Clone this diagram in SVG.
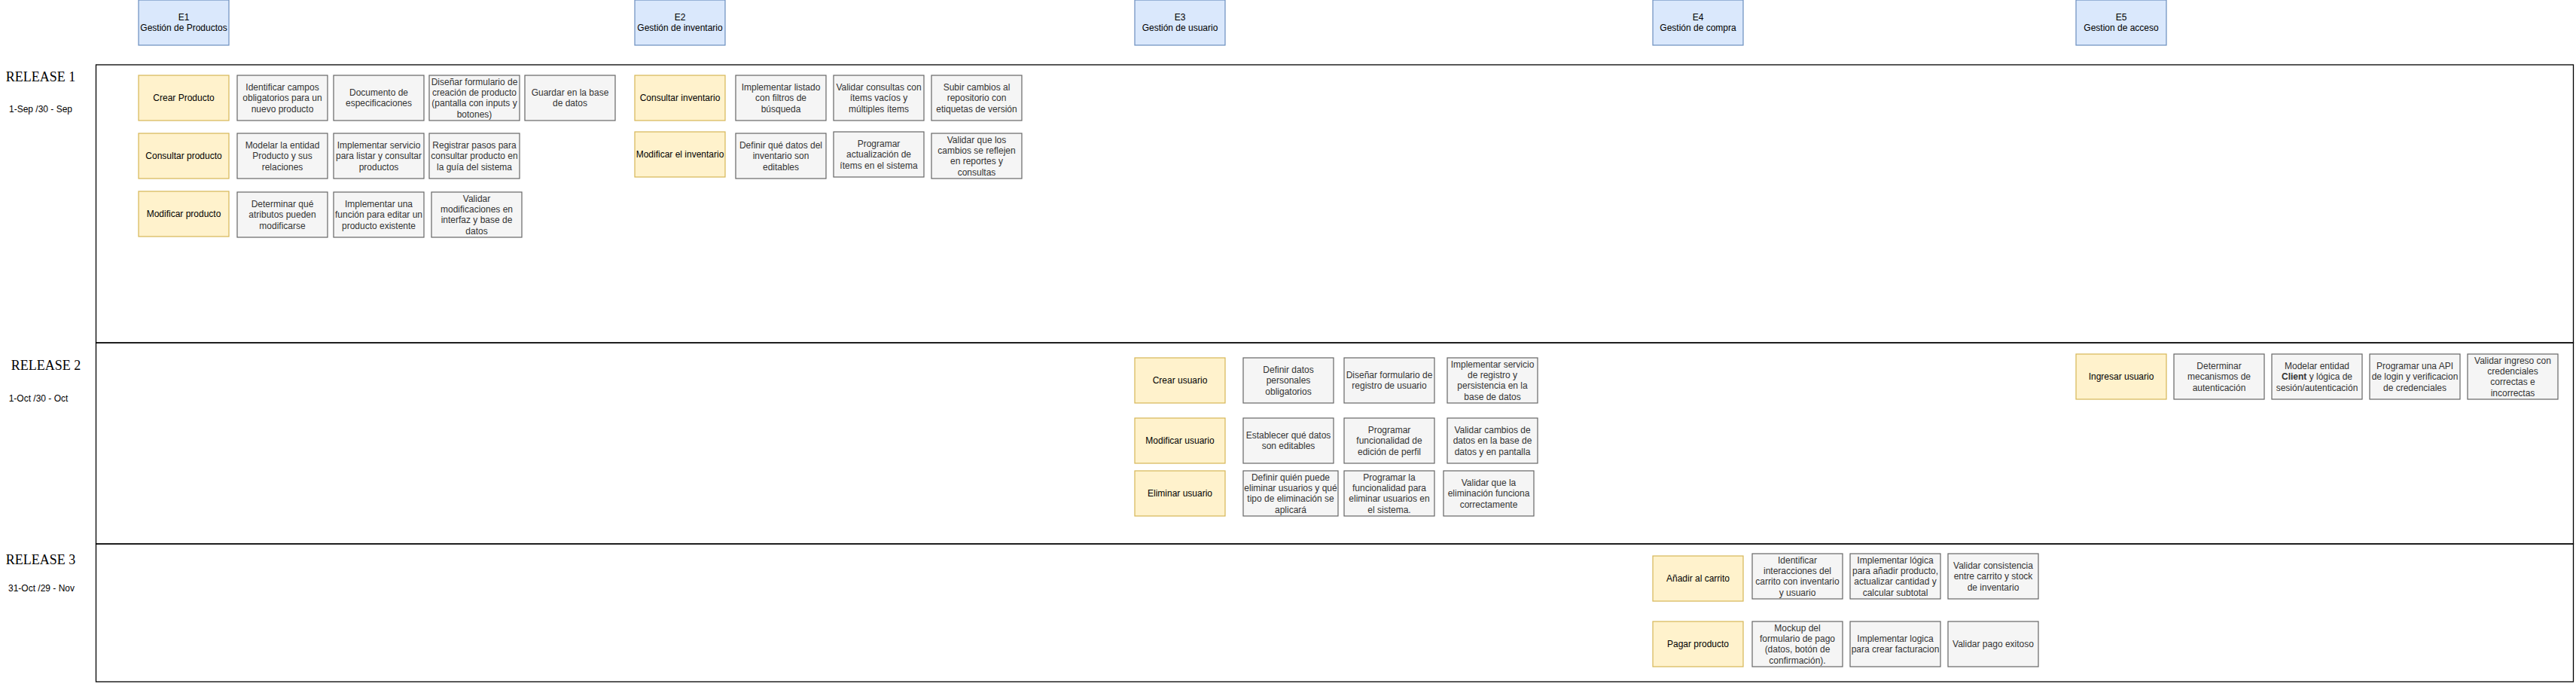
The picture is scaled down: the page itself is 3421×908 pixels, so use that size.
<svg xmlns="http://www.w3.org/2000/svg" width="3421" height="908" viewBox="0 0 3421 908">
<style>
.bg{fill:#ffffff}
.lane{fill:none;stroke:#000000;stroke-width:1.3}
.epic{fill:#dae8fc;stroke:#6c8ebf;stroke-width:1.2}
.story{fill:#fff2cc;stroke:#d6b656;stroke-width:1.2}
.task{fill:#f5f5f5;stroke:#666666;stroke-width:1.2}
text{font-family:"Liberation Sans",Arial,sans-serif;font-size:12px;text-anchor:middle}
.dk{fill:#000000}
.gr{fill:#333333}
.rel{font-family:"Liberation Serif","Times New Roman",serif;font-size:18px;fill:#000000}
.date{fill:#000000}
</style>
<rect class="bg" x="0" y="0" width="3421" height="908"/>

<g id="releases">
  <rect class="lane" x="127.5" y="86" width="3290" height="369"/>
  <rect class="lane" x="127.5" y="455" width="3290" height="267"/>
  <rect class="lane" x="127.5" y="722" width="3290" height="183"/>
  <text class="rel" x="54" y="108">RELEASE 1</text>
  <text class="date" x="54" y="149">1-Sep /30 - Sep</text>
  <text class="rel" x="61" y="491">RELEASE 2</text>
  <text class="date" x="51" y="533">1-Oct /30 - Oct</text>
  <text class="rel" x="54" y="749">RELEASE 3</text>
  <text class="date" x="55" y="785">31-Oct /29 - Nov</text>
</g>

<g id="connectors"></g>

<!-- Epics -->
<g id="E1"><rect class="epic" x="184" y="0" width="120" height="60"/><text class="dk" x="244" y="27">E1<tspan x="244" dy="14.4">Gestión de Productos</tspan></text></g>
<g id="E2"><rect class="epic" x="843" y="0" width="120" height="60"/><text class="dk" x="903" y="27">E2<tspan x="903" dy="14.4">Gestión de inventario</tspan></text></g>
<g id="E3"><rect class="epic" x="1507" y="0" width="120" height="60"/><text class="dk" x="1567" y="27">E3<tspan x="1567" dy="14.4">Gestión de usuario</tspan></text></g>
<g id="E4"><rect class="epic" x="2195" y="0" width="120" height="60"/><text class="dk" x="2255" y="27">E4<tspan x="2255" dy="14.4">Gestión de compra</tspan></text></g>
<g id="E5"><rect class="epic" x="2757" y="0" width="120" height="60"/><text class="dk" x="2817" y="27">E5<tspan x="2817" dy="14.4">Gestion de acceso</tspan></text></g>

<!-- Release 1, E1 -->
<g id="crear-producto"><rect class="story" x="184" y="100" width="120" height="60"/><text class="dk" x="244" y="134.2">Crear Producto</text></g>
<g id="t-identificar-campos"><rect class="task" x="315" y="100" width="120" height="60"/><text class="gr" x="375" y="119.8">Identificar campos<tspan x="375" dy="14.4">obligatorios para un</tspan><tspan x="375" dy="14.4">nuevo producto</tspan></text></g>
<g id="t-documento"><rect class="task" x="443" y="100" width="120" height="60"/><text class="gr" x="503" y="127">Documento de<tspan x="503" dy="14.4">especificaciones</tspan></text></g>
<g id="t-disenar-formulario"><rect class="task" x="570" y="100" width="120" height="60"/><text class="gr" x="630" y="112.6">Diseñar formulario de<tspan x="630" dy="14.4">creación de producto</tspan><tspan x="630" dy="14.4">(pantalla con inputs y</tspan><tspan x="630" dy="14.4">botones)</tspan></text></g>
<g id="t-guardar"><rect class="task" x="697" y="100" width="120" height="60"/><text class="gr" x="757" y="127">Guardar en la base<tspan x="757" dy="14.4">de datos</tspan></text></g>

<g id="consultar-producto"><rect class="story" x="184" y="177" width="120" height="60"/><text class="dk" x="244" y="211.2">Consultar producto</text></g>
<g id="t-modelar-producto"><rect class="task" x="315" y="177" width="120" height="60"/><text class="gr" x="375" y="196.8">Modelar la entidad<tspan x="375" dy="14.4">Producto y sus</tspan><tspan x="375" dy="14.4">relaciones</tspan></text></g>
<g id="t-servicio-listar"><rect class="task" x="443" y="177" width="120" height="60"/><text class="gr" x="503" y="196.8">Implementar servicio<tspan x="503" dy="14.4">para listar y consultar</tspan><tspan x="503" dy="14.4">productos</tspan></text></g>
<g id="t-registrar-pasos"><rect class="task" x="570" y="177" width="120" height="60"/><text class="gr" x="630" y="196.8">Registrar pasos para<tspan x="630" dy="14.4">consultar producto en</tspan><tspan x="630" dy="14.4">la guía del sistema</tspan></text></g>

<g id="modificar-producto"><rect class="story" x="184" y="254" width="120" height="60"/><text class="dk" x="244" y="288.2">Modificar producto</text></g>
<g id="t-determinar-atributos"><rect class="task" x="315" y="255" width="120" height="60"/><text class="gr" x="375" y="274.8">Determinar qué<tspan x="375" dy="14.4">atributos pueden</tspan><tspan x="375" dy="14.4">modificarse</tspan></text></g>
<g id="t-funcion-editar"><rect class="task" x="443" y="255" width="120" height="60"/><text class="gr" x="503" y="274.8">Implementar una<tspan x="503" dy="14.4">función para editar un</tspan><tspan x="503" dy="14.4">producto existente</tspan></text></g>
<g id="t-validar-modificaciones"><rect class="task" x="573" y="255" width="120" height="60"/><text class="gr" x="633" y="267.6">Validar<tspan x="633" dy="14.4">modificaciones en</tspan><tspan x="633" dy="14.4">interfaz y base de</tspan><tspan x="633" dy="14.4">datos</tspan></text></g>

<!-- Release 1, E2 -->
<g id="consultar-inventario"><rect class="story" x="843" y="100" width="120" height="60"/><text class="dk" x="903" y="134.2">Consultar inventario</text></g>
<g id="t-listado-filtros"><rect class="task" x="977" y="100" width="120" height="60"/><text class="gr" x="1037" y="119.8">Implementar listado<tspan x="1037" dy="14.4">con filtros de</tspan><tspan x="1037" dy="14.4">búsqueda</tspan></text></g>
<g id="t-validar-consultas"><rect class="task" x="1107" y="100" width="120" height="60"/><text class="gr" x="1167" y="119.8">Validar consultas con<tspan x="1167" dy="14.4">ítems vacíos y</tspan><tspan x="1167" dy="14.4">múltiples ítems</tspan></text></g>
<g id="t-subir-cambios"><rect class="task" x="1237" y="100" width="120" height="60"/><text class="gr" x="1297" y="119.8">Subir cambios al<tspan x="1297" dy="14.4">repositorio con</tspan><tspan x="1297" dy="14.4">etiquetas de versión</tspan></text></g>

<g id="modificar-inventario"><rect class="story" x="843" y="175" width="120" height="60"/><text class="dk" x="903" y="209.2">Modificar el inventario</text></g>
<g id="t-datos-editables"><rect class="task" x="977" y="177" width="120" height="60"/><text class="gr" x="1037" y="196.8">Definir qué datos del<tspan x="1037" dy="14.4">inventario son</tspan><tspan x="1037" dy="14.4">editables</tspan></text></g>
<g id="t-programar-actualizacion"><rect class="task" x="1107" y="175" width="120" height="60"/><text class="gr" x="1167" y="194.8">Programar<tspan x="1167" dy="14.4">actualización de</tspan><tspan x="1167" dy="14.4">ítems en el sistema</tspan></text></g>
<g id="t-validar-reflejen"><rect class="task" x="1237" y="177" width="120" height="60"/><text class="gr" x="1297" y="189.6">Validar que los<tspan x="1297" dy="14.4">cambios se reflejen</tspan><tspan x="1297" dy="14.4">en reportes y</tspan><tspan x="1297" dy="14.4">consultas</tspan></text></g>

<!-- Release 2, E3 -->
<g id="crear-usuario"><rect class="story" x="1507" y="475" width="120" height="60"/><text class="dk" x="1567" y="509.2">Crear usuario</text></g>
<g id="t-datos-personales"><rect class="task" x="1651" y="475" width="120" height="60"/><text class="gr" x="1711" y="494.8">Definir datos<tspan x="1711" dy="14.4">personales</tspan><tspan x="1711" dy="14.4">obligatorios</tspan></text></g>
<g id="t-formulario-registro"><rect class="task" x="1785" y="475" width="120" height="60"/><text class="gr" x="1845" y="502">Diseñar formulario de<tspan x="1845" dy="14.4">registro de usuario</tspan></text></g>
<g id="t-servicio-registro"><rect class="task" x="1922" y="475" width="120" height="60"/><text class="gr" x="1982" y="487.6">Implementar servicio<tspan x="1982" dy="14.4">de registro y</tspan><tspan x="1982" dy="14.4">persistencia en la</tspan><tspan x="1982" dy="14.4">base de datos</tspan></text></g>

<g id="modificar-usuario"><rect class="story" x="1507" y="555" width="120" height="60"/><text class="dk" x="1567" y="589.2">Modificar usuario</text></g>
<g id="t-establecer-editables"><rect class="task" x="1651" y="555" width="120" height="60"/><text class="gr" x="1711" y="582">Establecer qué datos<tspan x="1711" dy="14.4">son editables</tspan></text></g>
<g id="t-edicion-perfil"><rect class="task" x="1785" y="555" width="120" height="60"/><text class="gr" x="1845" y="574.8">Programar<tspan x="1845" dy="14.4">funcionalidad de</tspan><tspan x="1845" dy="14.4">edición de perfil</tspan></text></g>
<g id="t-validar-cambios-datos"><rect class="task" x="1922" y="555" width="120" height="60"/><text class="gr" x="1982" y="574.8">Validar cambios de<tspan x="1982" dy="14.4">datos en la base de</tspan><tspan x="1982" dy="14.4">datos y en pantalla</tspan></text></g>

<g id="eliminar-usuario"><rect class="story" x="1507" y="625" width="120" height="60"/><text class="dk" x="1567" y="659.2">Eliminar usuario</text></g>
<g id="t-quien-elimina"><rect class="task" x="1651" y="625" width="126" height="60"/><text class="gr" x="1714" y="637.6">Definir quién puede<tspan x="1714" dy="14.4">eliminar usuarios y qué</tspan><tspan x="1714" dy="14.4">tipo de eliminación se</tspan><tspan x="1714" dy="14.4">aplicará</tspan></text></g>
<g id="t-funcionalidad-eliminar"><rect class="task" x="1785" y="625" width="120" height="60"/><text class="gr" x="1845" y="637.6">Programar la<tspan x="1845" dy="14.4">funcionalidad para</tspan><tspan x="1845" dy="14.4">eliminar usuarios en</tspan><tspan x="1845" dy="14.4">el sistema.</tspan></text></g>
<g id="t-validar-eliminacion"><rect class="task" x="1917" y="625" width="120" height="60"/><text class="gr" x="1977" y="644.8">Validar que la<tspan x="1977" dy="14.4">eliminación funciona</tspan><tspan x="1977" dy="14.4">correctamente</tspan></text></g>

<!-- Release 2, E5 -->
<g id="ingresar-usuario"><rect class="story" x="2757" y="470" width="120" height="60"/><text class="dk" x="2817" y="504.2">Ingresar usuario</text></g>
<g id="t-mecanismos-auth"><rect class="task" x="2887" y="470" width="120" height="60"/><text class="gr" x="2947" y="489.8">Determinar<tspan x="2947" dy="14.4">mecanismos de</tspan><tspan x="2947" dy="14.4">autenticación</tspan></text></g>
<g id="t-entidad-client"><rect class="task" x="3017" y="470" width="120" height="60"/><text class="gr" x="3077" y="489.8">Modelar entidad<tspan x="3077" dy="14.4"><tspan font-weight="bold">Client</tspan> y lógica de</tspan><tspan x="3077" dy="14.4">sesión/autenticación</tspan></text></g>
<g id="t-api-login"><rect class="task" x="3147" y="470" width="120" height="60"/><text class="gr" x="3207" y="489.8">Programar una API<tspan x="3207" dy="14.4">de login y verificacion</tspan><tspan x="3207" dy="14.4">de credenciales</tspan></text></g>
<g id="t-validar-ingreso"><rect class="task" x="3277" y="470" width="120" height="60"/><text class="gr" x="3337" y="482.6">Validar ingreso con<tspan x="3337" dy="14.4">credenciales</tspan><tspan x="3337" dy="14.4">correctas e</tspan><tspan x="3337" dy="14.4">incorrectas</tspan></text></g>

<!-- Release 3, E4 -->
<g id="anadir-carrito"><rect class="story" x="2195" y="738" width="120" height="60"/><text class="dk" x="2255" y="772.2">Añadir al carrito</text></g>
<g id="t-interacciones-carrito"><rect class="task" x="2327" y="735" width="120" height="60"/><text class="gr" x="2387" y="747.6">Identificar<tspan x="2387" dy="14.4">interacciones del</tspan><tspan x="2387" dy="14.4">carrito con inventario</tspan><tspan x="2387" dy="14.4">y usuario</tspan></text></g>
<g id="t-logica-anadir"><rect class="task" x="2457" y="735" width="120" height="60"/><text class="gr" x="2517" y="747.6">Implementar lógica<tspan x="2517" dy="14.4">para añadir producto,</tspan><tspan x="2517" dy="14.4">actualizar cantidad y</tspan><tspan x="2517" dy="14.4">calcular subtotal</tspan></text></g>
<g id="t-consistencia-stock"><rect class="task" x="2587" y="735" width="120" height="60"/><text class="gr" x="2647" y="754.8">Validar consistencia<tspan x="2647" dy="14.4">entre carrito y stock</tspan><tspan x="2647" dy="14.4">de inventario</tspan></text></g>

<g id="pagar-producto"><rect class="story" x="2195" y="825" width="120" height="60"/><text class="dk" x="2255" y="859.2">Pagar producto</text></g>
<g id="t-mockup-pago"><rect class="task" x="2327" y="825" width="120" height="60"/><text class="gr" x="2387" y="837.6">Mockup del<tspan x="2387" dy="14.4">formulario de pago</tspan><tspan x="2387" dy="14.4">(datos, botón de</tspan><tspan x="2387" dy="14.4">confirmación).</tspan></text></g>
<g id="t-facturacion"><rect class="task" x="2457" y="825" width="120" height="60"/><text class="gr" x="2517" y="852">Implementar logica<tspan x="2517" dy="14.4">para crear facturacion</tspan></text></g>
<g id="t-pago-exitoso"><rect class="task" x="2587" y="825" width="120" height="60"/><text class="gr" x="2647" y="859.2">Validar pago exitoso</text></g>
</svg>
